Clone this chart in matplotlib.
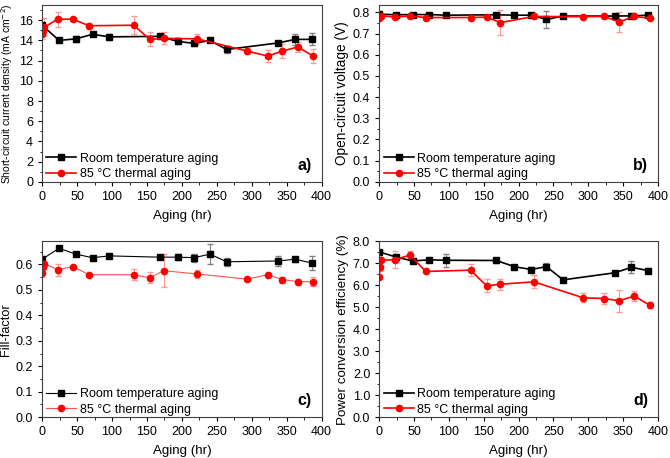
import matplotlib.pyplot as plt
from matplotlib.ticker import MultipleLocator, AutoMinorLocator

plt.rcParams['font.family'] = ['Liberation Sans', 'DejaVu Sans']
plt.rcParams['font.size'] = 9

# aging times (hr)
t_room = [0, 24, 48, 72, 96, 168, 194, 218, 240, 264, 338, 362, 386]
t_85 = [0, 1, 3, 22, 44, 67, 131, 154, 174, 222, 293, 323, 344, 366, 388]

# a) short-circuit current density
jsc_room = [15.5, 14.0, 14.15, 14.6, 14.35, 14.4, 13.9, 13.7, 14.0, 13.1, 13.75, 14.1, 14.1]
jsc_room_err = [0.2, 0.15, 0.3, 0.2, 0.3, 0.2, 0.3, 0.25, 0.2, 0.3, 0.15, 0.55, 0.6]
jsc_85 = [14.6, 14.9, 15.3, 16.1, 16.1, 15.45, 15.5, 14.1, 14.2, 14.15, 12.95, 12.45, 12.95, 13.35, 12.45]
jsc_85_err = [0.5, 0.4, 0.9, 0.75, 0.2, 0.3, 0.9, 0.7, 0.6, 0.5, 0.25, 0.55, 0.7, 0.5, 0.65]

# b) open-circuit voltage
voc_room = [0.792, 0.789, 0.79, 0.79, 0.787, 0.789, 0.787, 0.787, 0.767, 0.783, 0.783, 0.784, 0.787]
voc_room_err = [0.004, 0.003, 0.003, 0.003, 0.003, 0.003, 0.003, 0.003, 0.042, 0.004, 0.004, 0.004, 0.004]
voc_85 = [0.775, 0.78, 0.785, 0.778, 0.783, 0.776, 0.776, 0.778, 0.752, 0.781, 0.78, 0.781, 0.755, 0.781, 0.773]
voc_85_err = [0.006, 0.005, 0.005, 0.004, 0.004, 0.004, 0.004, 0.004, 0.06, 0.004, 0.004, 0.004, 0.045, 0.004, 0.005]

# c) fill-factor
ff_room = [0.62, 0.663, 0.64, 0.626, 0.633, 0.628, 0.628, 0.626, 0.64, 0.61, 0.613, 0.62, 0.605]
ff_room_err = [0.008, 0.006, 0.006, 0.008, 0.008, 0.006, 0.012, 0.015, 0.04, 0.015, 0.018, 0.01, 0.028]
ff_85 = [0.567, 0.59, 0.603, 0.579, 0.591, 0.559, 0.559, 0.547, 0.575, 0.562, 0.542, 0.559, 0.54, 0.532, 0.532]
ff_85_err = [0.015, 0.01, 0.008, 0.023, 0.006, 0.006, 0.022, 0.022, 0.065, 0.015, 0.006, 0.006, 0.012, 0.012, 0.018]

# d) power conversion efficiency
pce_room = [7.52, 7.29, 7.11, 7.16, 7.14, 7.13, 6.85, 6.72, 6.85, 6.25, 6.57, 6.82, 6.67]
pce_room_err = [0.08, 0.08, 0.1, 0.1, 0.3, 0.12, 0.08, 0.1, 0.15, 0.1, 0.1, 0.28, 0.12]
pce_85 = [6.38, 6.84, 7.14, 7.17, 7.37, 6.63, 6.69, 5.98, 6.05, 6.16, 5.43, 5.4, 5.3, 5.51, 5.1]
pce_85_err = [0.1, 0.2, 0.45, 0.4, 0.2, 0.08, 0.27, 0.3, 0.25, 0.3, 0.2, 0.25, 0.5, 0.22, 0.15]

panels = [
    ('a)', 'Short-circuit current density (mA cm$^{-2}$)', 7.5, jsc_room, jsc_room_err, jsc_85, jsc_85_err, 17.5, 2, '%g'),
    ('b)', 'Open-circuit voltage (V)', 9.8, voc_room, voc_room_err, voc_85, voc_85_err, 0.835, 0.1, '%.1f'),
    ('c)', 'Fill-factor', 9.2, ff_room, ff_room_err, ff_85, ff_85_err, 0.69, 0.1, '%.1f'),
    ('d)', 'Power conversion efficiency (%)', 9.6, pce_room, pce_room_err, pce_85, pce_85_err, 8.0, 1.0, '%.1f'),
]

positions = [
    [0.063, 0.603, 0.417, 0.386],
    [0.566, 0.603, 0.416, 0.386],
    [0.063, 0.089, 0.417, 0.384],
    [0.566, 0.089, 0.416, 0.384],
]

fig = plt.figure(figsize=(6.7, 4.58), dpi=100)

for (tag, ylabel, ylsize, yr, er, yh, eh, ytop, ystep, fmt), pos in zip(panels, positions):
    ax = fig.add_axes(pos)
    thin = tag == 'c)'
    lw = 0.8 if thin else 1.2
    red = '#ff5050' if thin else 'red'
    room = ax.errorbar(t_room, yr, yerr=er, color='black', marker='s', ms=4, lw=lw,
                       ecolor='#808080', elinewidth=0.8, capsize=2)
    hot = ax.errorbar(t_85, yh, yerr=eh, color=red, marker='o', ms=4.5, lw=lw,
                      mfc='red', mec='red',
                      ecolor='#ff9a9a', elinewidth=0.8, capsize=2)
    ax.set_xlim(0, 400)
    ax.set_ylim(0, ytop)
    ax.xaxis.set_major_locator(MultipleLocator(50))
    ax.xaxis.set_minor_locator(MultipleLocator(25))
    ax.yaxis.set_major_locator(MultipleLocator(ystep))
    ax.yaxis.set_minor_locator(AutoMinorLocator(2))
    ax.yaxis.set_major_formatter(plt.FormatStrFormatter(fmt))
    ax.tick_params(which='major', direction='out', length=3, width=0.8, labelsize=9)
    ax.tick_params(which='minor', direction='out', length=1.8, width=0.6)
    for s in ax.spines.values():
        s.set_linewidth(0.8)
        s.set_color('#404040')
    ax.set_xlabel('Aging (hr)', fontsize=9.6, labelpad=5)
    ax.set_ylabel(ylabel, fontsize=ylsize, labelpad=3)
    # legend without the error bar glyphs
    ax.legend([room.lines[0], hot.lines[0]],
              ['Room temperature aging', '85 °C thermal aging'],
              loc='lower left', bbox_to_anchor=(-0.025, -0.055), frameon=False,
              handlelength=2.4, handletextpad=0.3, labelspacing=0.3,
              fontsize=9)
    ax.text(0.965, 0.05, tag, transform=ax.transAxes, ha='right', va='bottom',
            fontsize=11.5, fontweight='bold')

plt.savefig('out.png', dpi=100)
